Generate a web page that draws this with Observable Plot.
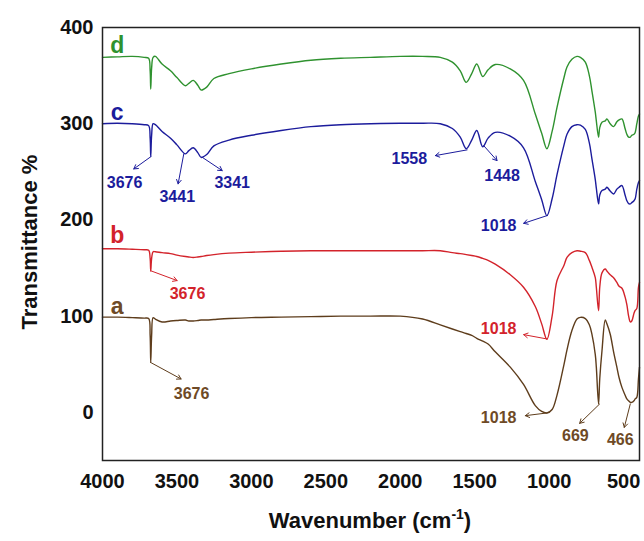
<!DOCTYPE html>
<html>
<head>
<meta charset="utf-8">
<script src="https://cdn.jsdelivr.net/npm/d3@7"></script>
<script src="https://cdn.jsdelivr.net/npm/@observablehq/plot@0.6"></script>
<style>
  html, body { margin: 0; padding: 0; background: #fff; }
  #chart svg { display: block; }
</style>
</head>
<body>
<div id="chart"></div>
<script>
// Wavenumber grid (cm^-1)
const wavenumber = [4000, 3900, 3800, 3720, 3690, 3680, 3676, 3670, 3660, 3645, 3600, 3543, 3500, 3443, 3420, 3391, 3360, 3337, 3300, 3252, 3150, 3000, 2800, 2600, 2400, 2200, 2000, 1850, 1731, 1650, 1597, 1557, 1520, 1486, 1446, 1410, 1362, 1261, 1172, 1093, 1050, 1015, 980, 947, 900, 880, 847, 813, 790, 757, 730, 713, 690, 683, 668, 660, 645, 623, 612, 590, 567, 545, 530, 511, 490, 478, 466, 455, 445, 430, 422, 411, 400, 393];

// Transmittance (offset) for each sample
const seriesA = [99, 99, 98.5, 98, 97.5, 80, 52, 80, 98.5, 97, 94, 95, 95.5, 96, 95, 95, 95.5, 96, 96, 96.5, 97.5, 98.5, 99, 99.5, 100, 100, 100, 97, 91, 86.7, 84, 82, 80, 77, 74, 71, 63, 47, 29, 7, 1, -0.6, 3, 18, 50, 65, 85, 97, 98.8, 97.5, 91, 81.5, 60, 47, 8.7, 35, 64, 96, 92, 81.5, 63, 47, 36, 26, 18, 14, 12, 10.5, 10.4, 12, 14, 15.6, 35, 47];
const seriesB = [170, 170, 169.5, 169, 168.5, 160, 147, 160, 167, 167, 166, 165, 163.5, 162, 161.5, 161, 161.5, 162, 163, 164, 165.5, 166.5, 167.5, 168, 168, 168, 168, 168, 168, 166, 165, 164, 163, 162, 160, 158, 154, 143, 130, 110, 92, 76, 100, 137, 153, 161, 166, 168, 167.5, 166, 158, 151, 140, 130, 105.7, 130, 145, 149, 147, 143, 140, 135, 131, 129, 120, 112, 100, 94, 95, 103, 106, 108, 130, 135];
const seriesC = [300, 300.5, 300, 299, 298, 285, 266, 288, 300, 299, 292, 285, 278, 268.7, 272, 275, 270, 265, 268, 277, 283, 288, 293, 297, 299, 300, 300.5, 300.5, 300, 295, 286, 274, 283, 293, 276, 285, 291, 287, 275, 240, 221, 204.5, 222, 247, 278, 289, 297, 299, 298.5, 294, 280, 264, 242, 233, 216.7, 226, 230.5, 232, 234, 230, 227, 232, 234, 235.7, 226, 220, 217, 216.7, 218, 220, 222, 232, 239, 241];
const seriesD = [369, 369.5, 370, 369, 368, 355, 336, 358, 369, 370, 362, 355, 348, 339.5, 342, 345, 340, 335, 338, 347, 352, 357, 362, 366, 368, 369, 370, 370, 369, 364, 355, 343, 352, 362, 349, 356, 361.5, 357, 345, 310, 290, 274, 292, 317, 348, 359, 367, 370, 369, 364, 350, 334.5, 312, 303, 286, 296, 301.5, 303, 305, 300, 297, 302, 304, 305, 295, 289, 286, 286, 288, 289, 291, 300, 308, 310];

const seriesNames = ["a", "b", "c", "d"];
const seriesColors = ["#5e3d1c", "#d3232b", "#1c1c9c", "#2f922f"];
const labelColors = ["#6e4a26", "#d3232b", "#1c1c9c", "#2f922f"];
const seriesLabelWn = [3901, 3901, 3901, 3901];
const seriesLabelT = [110, 184, 312, 381];

// Peak annotations
const annText   = ["3676", "3441", "3341", "1558", "1448", "1018", "3676", "1018", "3676", "1018", "669", "466"];
const annSeries = ["c", "c", "c", "c", "c", "c", "b", "b", "a", "a", "a", "a"];
const annWn     = [3852, 3498, 3129, 1939, 1316, 1339, 3429, 1339, 3402, 1339, 824, 522];
const annT      = [239, 223.6, 239, 263.5, 246, 194, 123, 86.7, 19, -5.8, -24.2, -28.7];
const tailWn    = [3673, 3454, 3331, 1551, 1440, 1014, 3678, 1014, 3678, 1014, 661, 455];
const tailT     = [266, 268.7, 265.2, 272.8, 277.3, 204.5, 147.3, 76.3, 52, -0.6, 8.7, 8.7];
const headWn    = [3790, 3492, 3196, 1764, 1350, 1171, 3499, 1171, 3472, 1160, 795, 495];
const headT     = [253, 237.5, 251.3, 266.9, 261.7, 196.5, 137, 80.8, 34.7, -3.4, -11.4, -15.6];

const xTicks = [4000, 3500, 3000, 2500, 2000, 1500, 1000, 500];
const yTicks = [0, 100, 200, 300, 400];

const allValues = [seriesA, seriesB, seriesC, seriesD];
const lineData = [];
seriesNames.forEach((s, k) => {
  wavenumber.forEach((w, i) => lineData.push({wn: w, t: allValues[k][i], s}));
});
const labelData = seriesNames.map((s, k) => ({s, wn: seriesLabelWn[k], t: seriesLabelT[k]}));
const annData = annText.map((txt, i) => ({
  txt, s: annSeries[i], wn: annWn[i], t: annT[i],
  x1: tailWn[i], y1: tailT[i], x2: headWn[i], y2: headT[i]
}));

const colorOf = Object.fromEntries(seriesNames.map((s, k) => [s, seriesColors[k]]));
const labelColorOf = Object.fromEntries(seriesNames.map((s, k) => [s, labelColors[k]]));

const chart = Plot.plot({
  width: 644,
  height: 541,
  marginLeft: 102,
  marginRight: 5,
  marginTop: 27,
  marginBottom: 81,
  style: {fontFamily: "'Liberation Sans', Arial, sans-serif", fontSize: "20px", fontWeight: "bold", color: "#111", background: "#fff"},
  x: {domain: [4000, 393], label: null},
  y: {domain: [-50, 400], label: null},
  marks: [
    Plot.axisX({ticks: xTicks, tickSize: 0, tickPadding: 13, tickFormat: d => String(d), label: null, fontSize: 20, fontWeight: "bold"}),
    Plot.axisY({ticks: yTicks, tickSize: 0, tickPadding: 9, tickFormat: d => String(d), label: null, fontSize: 20, fontWeight: "bold"}),
    Plot.line(lineData, {x: "wn", y: "t", z: "s", stroke: d => colorOf[d.s], strokeWidth: 1.4, curve: "catmull-rom"}),
    Plot.arrow(annData, {x1: "x1", y1: "y1", x2: "x2", y2: "y2", stroke: d => colorOf[d.s], strokeWidth: 1, headLength: 7}),
    Plot.text(annData, {x: "wn", y: "t", text: "txt", fill: d => labelColorOf[d.s], fontSize: 16, fontWeight: "bold"}),
    Plot.text(labelData, {x: "wn", y: "t", text: "s", fill: d => labelColorOf[d.s], fontSize: 23, fontWeight: "bold"}),
    Plot.frame({stroke: "#222", strokeWidth: 1.5})
  ]
});

const svg = d3.select(chart);
svg.append("text")
  .attr("transform", "translate(37,242) rotate(-90)")
  .attr("text-anchor", "middle")
  .attr("font-size", 22)
  .attr("font-weight", "bold")
  .attr("fill", "#111")
  .text("Transmittance %");
const xl = svg.append("text")
  .attr("x", 370)
  .attr("y", 528)
  .attr("text-anchor", "middle")
  .attr("font-size", 22)
  .attr("font-weight", "bold")
  .attr("fill", "#111");
xl.append("tspan").text("Wavenumber (cm");
xl.append("tspan").attr("dy", -9).attr("font-size", 14).text("-1");
xl.append("tspan").attr("dy", 9).text(")");

document.getElementById("chart").appendChild(chart);
</script>
</body>
</html>
